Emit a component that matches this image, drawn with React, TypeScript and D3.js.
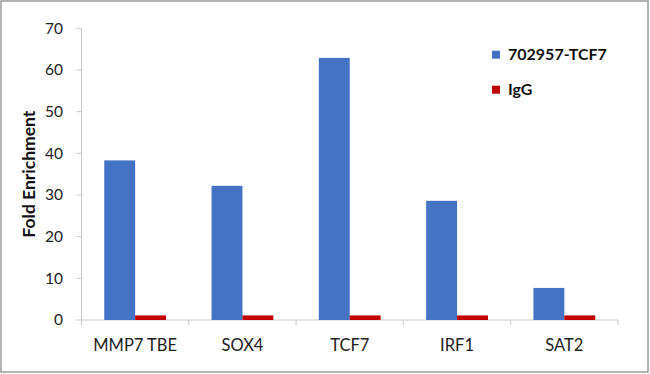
import React from "react";
import * as d3 from "d3";

const categories = ["MMP7 TBE", "SOX4", "TCF7", "IRF1", "SAT2"];
const seriesNames = ["702957-TCF7", "IgG"];
const tcf7Values = [38.3, 32.2, 62.9, 28.6, 7.7];
const iggValues = [1.1, 1.1, 1.1, 1.1, 1.1];
const yTicks = [0, 10, 20, 30, 40, 50, 60, 70];
const colors = ["#4472C4", "#C00000"];

export default function App() {
  const W = 650, H = 374;
  const x0 = 81.5, x1 = 618, yTop = 28.3, yBot = 320;
  const x = d3.scaleBand().domain(categories).range([x0, x1]);
  const y = d3.scaleLinear().domain([0, 70]).range([yBot, yTop]);
  const barW = x.bandwidth() * 0.288;
  const series = [tcf7Values, iggValues];
  const font = "Lato, 'Open Sans', sans-serif";

  return (
    <svg width={W} height={H} style={{ position: "absolute", left: 0, top: 0, background: "#fff" }} fontFamily={font}>
      <rect x={1} y={1} width={647} height={371} fill="#fff" stroke="#9a9a9a" strokeWidth={1.5} />
      {/* y axis */}
      <line x1={x0} x2={x0} y1={yTop} y2={yBot} stroke="#c8c8c8" strokeWidth={1} />
      {yTicks.map((t) => (
        <g key={t}>
          <line x1={x0 - 5} x2={x0} y1={y(t)} y2={y(t)} stroke="#c8c8c8" />
          <text x={63} y={y(t)} dy="0.35em" textAnchor="end" fontSize={15.5} fill="#222">
            {t}
          </text>
        </g>
      ))}
      {/* x axis */}
      <line x1={x0} x2={x1} y1={yBot} y2={yBot} stroke="#c8c8c8" />
      {[...categories.map((c) => x(c) as number), x1].map((px, i) => (
        <line key={i} x1={px} x2={px} y1={yBot} y2={yBot + 5} stroke="#c8c8c8" />
      ))}
      {categories.map((c) => (
        <text key={c} x={(x(c) as number) + x.bandwidth() / 2} y={351} textAnchor="middle" fontSize={16.5} fill="#222">
          {c}
        </text>
      ))}
      {/* bars */}
      {series.map((vals, si) =>
        vals.map((v, i) => {
          const cx = (x(categories[i]) as number) + x.bandwidth() / 2;
          const bx = si === 0 ? cx - barW : cx;
          return (
            <rect key={si + "-" + i} x={bx} y={y(v)} width={barW} height={yBot - y(v)} fill={colors[si]} />
          );
        })
      )}
      {/* y title */}
      <text
        transform={`translate(35, ${(yTop + yBot) / 2}) rotate(-90)`}
        textAnchor="middle"
        fontSize={17.5}
        fontWeight="bold"
        fill="#111"
      >
        Fold Enrichment
      </text>
      {/* legend */}
      {seriesNames.map((n, i) => (
        <g key={n} transform={`translate(492, ${50.7 + i * 35})`}>
          <rect x={0} y={0} width={8} height={8} fill={colors[i]} />
          <text x={16} y={9.5} fontSize={16} fontWeight="bold" fill="#111">
            {n}
          </text>
        </g>
      ))}
    </svg>
  );
}
